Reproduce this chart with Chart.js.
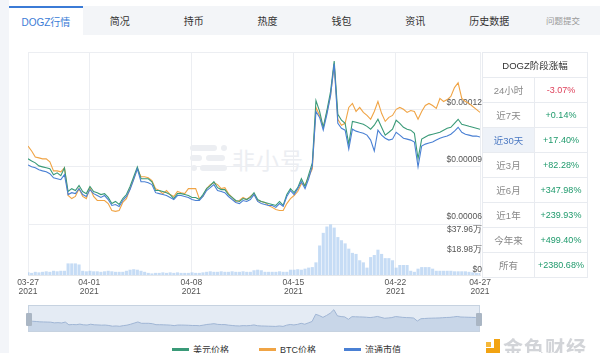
<!DOCTYPE html>
<html>
<head>
<meta charset="utf-8">
<script src="https://cdn.jsdelivr.net/npm/chart.js@4.4.0/dist/chart.umd.min.js"></script>
<style>
  body { margin: 0; width: 600px; height: 353px; overflow: hidden; position: relative; background: #fff;
         font-family: "Liberation Sans", "Noto Sans CJK SC", sans-serif; }
  .side { position: absolute; left: 0; top: 0; width: 9px; height: 353px; background: #f3f5f9; }
  .tabs { position: absolute; left: 9px; top: 6px; width: 591px; height: 29px; background: #f3f5f8; display: flex; }
  .tab { width: 74px; height: 29px; line-height: 31px; text-align: center; font-size: 10px; color: #333; }
  .tab.on { background: #fff; color: #3b7bd6; border-top: 2px solid #3b7bd6; height: 27px; line-height: 29px; }
  .tab.small { font-size: 8.5px; color: #999; }
  .mark { position: absolute; left: 190px; top: 145px; color: #eceef2; font-size: 23px; }
  .mark i { position: absolute; height: 6px; border-radius: 3px; background: #eceef2; }
  .mark span { position: absolute; left: 42px; top: -3px; white-space: nowrap; letter-spacing: 1px; }
  .chartbox { position: absolute; left: 0; top: 40px; width: 500px; height: 262px; }
  table { position: absolute; left: 482px; top: 52px; width: 106px; border-collapse: collapse; font-size: 9px; }
  td, th { border: 1px solid #e8ebf0; height: 24px; padding: 0; text-align: center; font-weight: normal; }
  th { color: #333; font-size: 9.5px; }
  td.k { color: #888; width: 51px; font-size: 9.5px; }
  td.up { color: #1f9a6c; }
  td.down { color: #de3f59; }
  td.sel { background: #eef2f8; color: #4a78c2; }
  .zoom { position: absolute; left: 28px; top: 305px; width: 452px; height: 27px; background: #e4ebf4;
          border: 1px solid #c6d2e0; box-sizing: border-box; }
  .zoom canvas { position: absolute; left: 0; top: 0; }
  .handle { position: absolute; top: 7px; width: 6px; height: 13px; background: #aab6c4; border-radius: 1px; }
  .legend { position: absolute; left: 0; top: 343px; width: 600px; font-size: 9px; color: #333; }
  .legend div { position: absolute; top: 0; white-space: nowrap; }
  .legend b { display: inline-block; width: 17px; height: 3px; margin-right: 4px; vertical-align: 2px; }
  .logo { position: absolute; left: 486px; top: 336px; white-space: nowrap; }
  .logo .ic { position: absolute; left: 0; top: 3px; width: 14px; height: 14px; }
  .logo span { position: absolute; left: 17px; top: -3px; font-size: 20px; font-weight: bold; color: #d2d4d8; letter-spacing: 1px; }
</style>
</head>
<body>
<div class="side"></div>
<div class="tabs" id="tabs"></div>
<div class="mark">
  <i style="left:0;top:0;width:27px"></i><i style="left:31px;top:0;width:6px"></i>
  <i style="left:0;top:10px;width:12px"></i><i style="left:16px;top:10px;width:19px"></i>
  <i style="left:1px;top:20px;width:6px"></i><i style="left:10px;top:20px;width:27px"></i>
  <span>非小号</span>
</div>
<div class="chartbox"><canvas id="main" width="500" height="262"></canvas></div>
<table id="stage"></table>
<div class="zoom"><canvas id="overview" width="450" height="25"></canvas>
  <span class="handle" style="left:-3px"></span><span class="handle" style="right:-3px"></span></div>
<div class="legend" id="legend"></div>
<div class="logo">
  <svg class="ic" viewBox="0 0 14 14"><rect x="0" y="3" width="5" height="5" fill="#f5b83a"/><rect x="8" y="0" width="6" height="14" fill="#f2a312"/><rect x="0" y="9" width="8" height="5" fill="#f2a312"/></svg>
  <span>金色财经</span>
</div>
<script>
// x positions: days after 03-27 00:00, one point every 6 hours
const firstDay = 0.8;
const stepDay = 0.25;
const tickDays = [0.8, 5, 12, 19, 26, 31.8];
const tickLabels = [['03-27', '2021'], ['04-01', '2021'], ['04-08', '2021'], ['04-15', '2021'], ['04-22', '2021'], ['04-27', '2021']];

// prices in 1e-5 USD (all three lines share the price scale)
const usdPrice = [
  9.41, 9.30, 9.20, 9.04, 8.99, 8.94, 8.89, 8.58, 8.68, 8.53,
  8.94, 7.70, 7.85, 7.75, 8.01, 7.70, 7.59, 7.96, 7.70, 7.64,
  7.54, 7.59, 7.39, 7.07, 7.18, 7.02, 7.33, 7.54, 7.96, 8.47,
  8.99, 8.37, 8.37, 8.37, 8.21, 7.75, 7.75, 7.70, 7.64, 7.54,
  7.33, 7.59, 7.59, 7.54, 7.49, 7.39, 7.39, 7.28, 7.54, 7.85,
  8.01, 8.21, 7.90, 7.80, 7.80, 7.54, 7.39, 7.23, 7.18, 7.33,
  7.28, 7.39, 7.64, 7.28, 7.18, 7.13, 7.07, 7.02, 6.97, 7.18,
  6.97, 7.54, 7.85, 7.64, 7.90, 8.37, 7.96, 8.58, 9.20, 12.46,
  11.89, 11.06, 11.94, 12.93, 14.53, 11.74, 11.43, 11.27, 10.18, 11.37,
  11.32, 11.27, 11.22, 11.11, 10.96, 11.17, 11.48, 11.06, 10.65, 10.80,
  10.96, 11.43, 11.27, 11.06, 10.96, 10.91, 10.75, 9.41, 10.44, 10.55,
  10.65, 10.70, 10.75, 10.80, 10.91, 11.01, 11.06, 11.27, 11.48, 11.22,
  11.17, 11.11, 11.06, 11.01, 10.96
];
const btcPrice = [
  10.08, 9.82, 9.51, 9.46, 9.41, 9.41, 9.25, 8.78, 8.78, 8.73,
  8.94, 7.49, 7.33, 7.44, 7.85, 7.44, 7.33, 7.90, 7.44, 7.23,
  7.23, 7.23, 7.07, 6.71, 6.66, 6.71, 7.13, 7.33, 7.85, 8.37,
  8.89, 8.47, 8.47, 8.42, 8.27, 7.85, 7.75, 7.59, 7.75, 7.54,
  7.44, 7.70, 7.64, 7.59, 7.85, 7.85, 7.85, 7.33, 7.44, 7.85,
  8.06, 8.16, 8.06, 7.85, 7.90, 7.59, 7.39, 7.18, 7.23, 7.39,
  7.28, 7.44, 7.59, 7.23, 7.18, 7.13, 6.97, 6.87, 6.76, 6.71,
  6.71, 7.07, 7.33, 7.49, 7.70, 8.11, 8.06, 8.47, 8.89, 12.10,
  11.68, 11.06, 11.84, 12.72, 14.38, 11.48, 11.17, 11.27, 12.10, 12.31,
  11.89, 12.10, 11.84, 11.68, 11.48, 11.89, 12.41, 11.79, 11.37, 11.58,
  11.68, 12.00, 12.10, 12.00, 11.84, 11.94, 11.89, 11.48, 11.89, 12.20,
  12.31, 12.20, 12.05, 12.57, 12.41, 12.51, 12.67, 13.14, 13.39, 12.57,
  12.41, 12.31, 12.15, 12.00, 11.84
];
const marketCap = [
  9.09, 8.99, 8.94, 8.84, 8.78, 8.73, 8.63, 8.42, 8.37, 8.32,
  8.58, 7.54, 7.64, 7.59, 7.85, 7.54, 7.44, 7.80, 7.59, 7.49,
  7.39, 7.49, 7.28, 6.97, 7.02, 6.92, 7.23, 7.44, 7.80, 8.32,
  8.89, 8.21, 8.21, 8.16, 8.06, 7.64, 7.59, 7.54, 7.49, 7.39,
  7.28, 7.49, 7.49, 7.44, 7.39, 7.28, 7.23, 7.23, 7.44, 7.75,
  7.90, 8.06, 7.75, 7.70, 7.64, 7.44, 7.28, 7.13, 7.07, 7.23,
  7.18, 7.28, 7.54, 7.18, 7.07, 7.02, 6.97, 6.97, 6.87, 7.07,
  6.92, 7.44, 7.75, 7.54, 7.85, 8.21, 7.85, 8.37, 9.04, 11.89,
  11.58, 10.91, 11.74, 12.72, 14.38, 11.27, 11.01, 10.91, 9.92, 10.96,
  10.86, 10.80, 10.75, 10.65, 10.39, 9.82, 10.91, 10.65, 10.49, 10.39,
  10.44, 10.80, 10.65, 10.49, 10.44, 10.39, 10.29, 8.99, 10.08, 10.18,
  10.24, 10.29, 10.39, 10.49, 10.55, 10.60, 10.70, 10.86, 11.06, 10.80,
  10.70, 10.65, 10.60, 10.60, 10.55
];
// volume in 万 USD
const volume = [
  2.5, 2, 3, 2.5, 3, 3.5, 3, 4, 3.5, 4,
  4, 11, 11, 11, 10, 4, 3.5, 4, 3.5, 3.5,
  3, 3.5, 4, 3.5, 3, 3, 3, 4, 5, 5.5,
  5, 4, 3, 2, 1.5, 2, 2, 2.5, 2, 2.5,
  2, 2.5, 2, 2, 2, 2.5, 2, 2, 2.5, 3,
  3.5, 3, 3, 3.5, 3, 3, 3.5, 3, 3, 3.5,
  3, 3, 4.5, 5, 4.5, 3, 3, 3, 3, 3.5,
  3, 3, 5, 5, 5.5, 5, 6, 7, 7.5, 12,
  28, 40, 46, 48, 45, 36, 33, 30, 25, 21,
  20, 14, 12, 7, 17, 19, 24, 20, 16, 16,
  14, 7, 9.5, 9.5, 9.5, 4, 3, 6, 7.5, 7.5,
  7.5, 6, 4, 4, 4, 4, 4, 3.5, 3.5, 3.5,
  3.5, 3, 2.5, 2, 2
];
const priceTicks = [6, 9, 12, 15];
const volumeTicks = [0, 18.98, 37.96];
const volumeTickLabels = ['$0', '$18.98万', '$37.96万'];

const tabNames = ['DOGZ行情', '简况', '持币', '热度', '钱包', '资讯', '历史数据', '问题提交'];
const stageLabels = ['24小时', '近7天', '近30天', '近3月', '近6月', '近1年', '今年来', '所有'];
const stageChanges = ['-3.07%', '+0.14%', '+17.40%', '+82.28%', '+347.98%', '+239.93%', '+499.40%', '+2380.68%'];

const GREEN = '#3a9a78', ORANGE = '#f0a445', BLUE = '#4a80d4';

document.getElementById('tabs').innerHTML = tabNames.map((t, i) =>
  `<div class="tab${i === 0 ? ' on' : ''}${i === tabNames.length - 1 ? ' small' : ''}">${t}</div>`).join('');

let rows = '<tr><th colspan="2">DOGZ阶段涨幅</th></tr>';
stageLabels.forEach((lab, i) => {
  const cls = stageChanges[i][0] === '-' ? 'down' : 'up';
  rows += `<tr><td class="k${i === 2 ? ' sel' : ''}">${lab}</td><td class="${cls}">${stageChanges[i]}</td></tr>`;
});
document.getElementById('stage').innerHTML = rows;

const legendItems = [['美元价格', GREEN, 172], ['BTC价格', ORANGE, 259], ['流通市值', BLUE, 344]];
document.getElementById('legend').innerHTML = legendItems.map(([t, c, x]) =>
  `<div style="left:${x}px"><b style="background:${c}"></b>${t}</div>`).join('');

const days = usdPrice.map((_, i) => firstDay + i * stepDay);
const pts = arr => arr.map((v, i) => ({ x: days[i], y: v }));
const lineSet = (label, arr, color, order) => ({
  label, data: pts(arr), borderColor: color, borderWidth: 1.1, pointRadius: 0, tension: 0, yAxisID: 'y', order
});
// keep the plot box fixed: no automatic room for labels
const noPad = s => { s.paddingLeft = 0; s.paddingRight = 0; s.paddingTop = 0; s.paddingBottom = 0; };
const axisFont = { size: 8.5 };

new Chart(document.getElementById('main'), {
  type: 'line',
  data: {
    datasets: [
      lineSet('美元价格', usdPrice, GREEN, 2),
      lineSet('BTC价格', btcPrice, ORANGE, 3),
      lineSet('流通市值', marketCap, BLUE, 1),
      {
        type: 'bar', label: '成交额', data: pts(volume), yAxisID: 'yv', order: 4,
        backgroundColor: 'rgba(160,196,238,0.6)', barPercentage: 0.85, categoryPercentage: 1
      }
    ]
  },
  options: {
    responsive: false,
    animation: false,
    layout: { padding: { left: 28, top: 12, right: 20, bottom: 3 } },
    plugins: { legend: { display: false }, tooltip: { enabled: false } },
    scales: {
      x: {
        type: 'linear', offset: false, min: tickDays[0], max: tickDays[tickDays.length - 1],
        afterBuildTicks: s => { s.ticks = tickDays.map(v => ({ value: v })); },
        afterFit: s => { s.height = 24; noPad(s); },
        grid: { color: '#eceef2', drawTicks: false, offset: false },
        border: { color: '#e4e7eb' },
        ticks: {
          autoSkip: false, maxRotation: 0, padding: 3, color: '#555',
          font: { size: 8.5, lineHeight: 1.05 },
          callback: (v, i) => tickLabels[i]
        }
      },
      y: {
        position: 'right', stack: 'main', stackWeight: 172, min: 6, max: 15,
        afterBuildTicks: s => { s.ticks = priceTicks.map(v => ({ value: v })); },
        afterFit: s => { s.width = 0; noPad(s); },
        grid: { color: '#eceef2', drawTicks: false },
        border: { display: false },
        ticks: {
          mirror: true, padding: 2, labelOffset: -7, color: '#555', font: axisFont,
          callback: v => v === 15 ? '' : '$' + (v * 1e-5).toFixed(5)
        }
      },
      yv: {
        type: 'linear', position: 'right', stack: 'main', stackWeight: 51, min: 0, max: 48.4,
        afterBuildTicks: s => { s.ticks = volumeTicks.map(v => ({ value: v })); },
        afterFit: s => { s.width = 0; noPad(s); },
        grid: { display: false },
        border: { display: false },
        ticks: {
          mirror: true, padding: 2, labelOffset: -5, color: '#555', font: axisFont,
          callback: (v, i) => volumeTickLabels[i]
        }
      }
    }
  }
});

new Chart(document.getElementById('overview'), {
  type: 'line',
  data: {
    datasets: [{
      data: pts(usdPrice), borderColor: '#9fb5d4', borderWidth: 1, pointRadius: 0,
      fill: 'start', backgroundColor: 'rgba(150,176,210,0.35)'
    }]
  },
  options: {
    responsive: false,
    animation: false,
    plugins: { legend: { display: false }, tooltip: { enabled: false } },
    scales: {
      x: { type: 'linear', display: false, min: tickDays[0], max: tickDays[tickDays.length - 1] },
      y: { display: false, min: 4.9, max: 16.2 }
    }
  }
});
</script>
</body>
</html>
